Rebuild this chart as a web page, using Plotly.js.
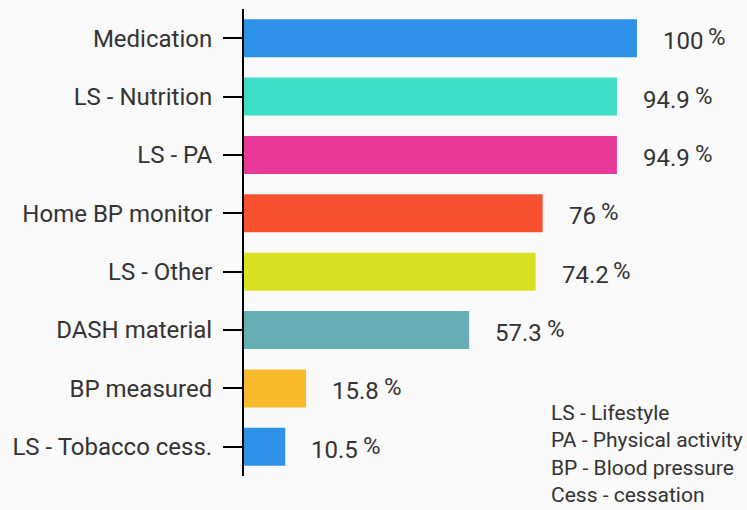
<!DOCTYPE html>
<html><head><meta charset="utf-8">
<script src="https://cdn.plot.ly/plotly-3.0.1.min.js"></script>
<style>html,body{margin:0;padding:0;background:#fafafa;}#chart{width:747px;height:510px;}</style>
</head><body><div id="chart"></div>
<script>
const categories = ["Medication","LS - Nutrition","LS - PA","Home BP monitor","LS - Other","DASH material","BP measured","LS - Tobacco cess."];
const values = [100, 94.9, 94.9, 76, 74.2, 57.3, 15.8, 10.5];
const valueLabels = ["100","94.9","94.9","76","74.2","57.3","15.8","10.5"];
const barColors = ["#2E93E8","#3DDCC4","#E8399A","#F75030","#D8E021","#68AFB5","#F6BA2A","#2E93E8"];
const noteLines = ["LS - Lifestyle","PA - Physical activity","BP - Blood pressure","Cess - cessation"];

const textColor = "#333333";
const labelFont = {family:"Roboto", size:24, color:textColor};

const canvas = document.createElement("canvas");
const ctx = canvas.getContext("2d");
ctx.font = "24px Roboto";

const annotations = [];
values.forEach((v,i)=>{
  annotations.push({x:v, y:categories[i], xref:"x", yref:"y", text:valueLabels[i],
    showarrow:false, xanchor:"left", yanchor:"middle", xshift:24, yshift:-3, font:labelFont});
  const w = ctx.measureText(valueLabels[i]).width;
  annotations.push({x:v, y:categories[i], xref:"x", yref:"y", text:"%",
    showarrow:false, xanchor:"left", yanchor:"middle", xshift:24 + w + 5, yshift:1, font:labelFont});
});
// note block, placed relative to the plot area (244..747 x, 9..476 y)
annotations.push({x:(549-244)/503, y:(476-399)/467, xref:"paper", yref:"paper", xanchor:"left", yanchor:"top",
  align:"left", showarrow:false, text:noteLines.join("<br>"), font:{family:"Roboto", size:21, color:textColor}});

const trace = {type:"bar", orientation:"h", x:values, y:categories, width:0.65,
  marker:{color:barColors}, hoverinfo:"none"};

const layout = {
  width:747, height:510,
  paper_bgcolor:"#fafafa", plot_bgcolor:"#fafafa",
  margin:{l:244, r:0, t:9, b:34, pad:0},
  showlegend:false,
  xaxis:{range:[0,128], visible:false, showgrid:false, zeroline:false},
  yaxis:{type:"category", autorange:"reversed", showline:true, linecolor:"#000", linewidth:2,
    ticks:"outside", ticklen:19, tickwidth:2, tickcolor:"#000", ticklabelstandoff:6,
    showgrid:false, zeroline:false, tickfont:labelFont},
  annotations:annotations
};
Plotly.newPlot("chart", [trace], layout, {staticPlot:true});
</script></body></html>
